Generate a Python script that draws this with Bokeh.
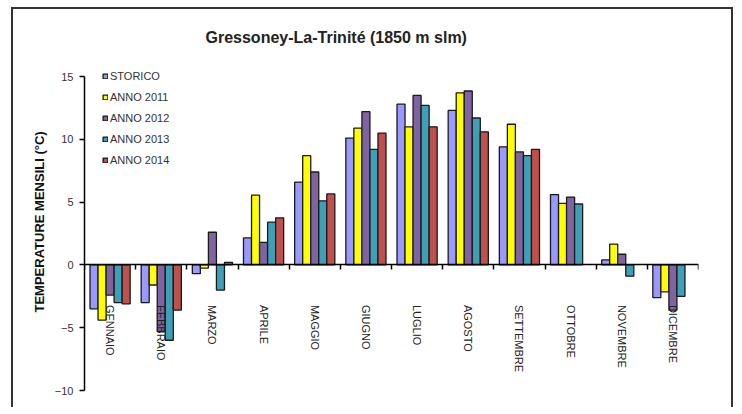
import math
from bokeh.plotting import figure
from bokeh.models import (ColumnDataSource, Range1d, FixedTicker, LinearAxis,
                          Legend, LegendItem, Title)
from bokeh.core.properties import value
from bokeh.transform import dodge
from bokeh.embed import file_html
from bokeh.resources import INLINE

NAN = float("nan")

months = ["GENNAIO", "FEBBRAIO", "MARZO", "APRILE", "MAGGIO", "GIUGNO",
          "LUGLIO", "AGOSTO", "SETTEMBRE", "OTTOBRE", "NOVEMBRE", "DICEMBRE"]
series_names = ["STORICO", "ANNO 2011", "ANNO 2012", "ANNO 2013", "ANNO 2014"]
storico = [-3.5, -3.0, -0.7, 2.15, 6.6, 10.1, 12.8, 12.3, 9.4, 5.6, 0.4, -2.6]
anno_2011 = [-4.4, -1.6, -0.25, 5.55, 8.7, 10.9, 11.0, 13.7, 11.2, 4.9, 1.65, -2.15]
anno_2012 = [-2.4, -5.3, 2.6, 1.8, 7.4, 12.2, 13.5, 13.85, 9.0, 5.4, 0.85, -3.6]
anno_2013 = [-3.0, -6.0, -2.0, 3.4, 5.1, 9.2, 12.7, 11.7, 8.7, 4.85, -0.9, -2.5]
anno_2014 = [-3.1, -3.6, 0.2, 3.75, 5.65, 10.5, 11.0, 10.6, 9.2, NAN, NAN, NAN]
y_ticks = [-10, -5, 0, 5, 10, 15]

colors = ["#9999FF", "#FFFF00", "#8064A2", "#3E9FB5", "#C0504D"]
FONT = "Liberation Sans"

n = len(months)
centers = [i + 0.5 for i in range(n)]
data = dict(x=centers, month=months, s0=storico, s1=anno_2011, s2=anno_2012,
            s3=anno_2013, s4=anno_2014)
src = ColumnDataSource(data)

p = figure(width=722, height=400, output_backend="svg", toolbar_location=None,
           x_range=Range1d(0, n), y_range=Range1d(y_ticks[0], y_ticks[-1] + 0.72),
           min_border_left=71, min_border_right=37, min_border_top=58,
           min_border_bottom=19, x_axis_type=None, y_axis_type=None)
p.styles = {"border-top": "2px solid #333", "border-left": "2px solid #333",
            "border-right": "2px solid #333", "margin-left": "11px",
            "margin-top": "7px"}
p.outline_line_color = None
p.xgrid.visible = False
p.ygrid.visible = False
p.background_fill_color = "white"
p.border_fill_color = "white"

# title
p.add_layout(Title(text="Gressoney-La-Trinité (1850 m slm)", align="left",
                   offset=121, standoff=39, vertical_align="top", text_font=FONT,
                   text_font_size="16px", text_font_style="bold",
                   text_color="#222222"), "above")

# y axis
yax = LinearAxis(ticker=FixedTicker(ticks=y_ticks), bounds=(y_ticks[0], y_ticks[-1]))
yax.axis_line_color = "black"
yax.axis_line_width = 1.5
yax.major_tick_line_color = "black"
yax.major_tick_line_width = 1.5
yax.major_tick_out = 5
yax.major_tick_in = 0
yax.minor_tick_line_color = None
yax.major_label_text_font = FONT
yax.major_label_text_font_size = "11px"
yax.major_label_text_color = "#333333"
yax.major_label_standoff = 6
p.add_layout(yax, "left")

p.add_layout(Title(text="TEMPERATURE MENSILI (°C)", align="left", offset=78,
                   standoff=9, text_font=FONT, text_font_size="13px",
                   text_font_style="bold", text_color="#111111"), "left")

# x axis at zero with ticks at category boundaries
xax = LinearAxis(ticker=FixedTicker(ticks=list(range(n + 1))), fixed_location=0)
xax.axis_line_color = "black"
xax.axis_line_width = 1.5
xax.major_tick_line_color = "black"
xax.major_tick_line_width = 1.5
xax.major_tick_out = 5
xax.major_tick_in = 0
xax.minor_tick_line_color = None
xax.major_label_text_font_size = "0px"
xax.major_label_text_alpha = 0
p.add_layout(xax, "below")

w = 0.157
keys = ["s0", "s1", "s2", "s3", "s4"]
items = []
for k, (key, col, name) in enumerate(zip(keys, colors, series_names)):
    r = p.vbar(x=dodge("x", (k - 2) * w), top=key, bottom=0, width=w,
               source=src, fill_color=col, line_color="#1a1a1a", line_width=1.3)
    items.append(LegendItem(label=name, renderers=[r]))

# month labels, rotated, below zero line
p.text(x="x", y=0, text="month", source=src, angle=-math.pi / 2,
       y_offset=40, text_align="left", text_baseline="middle",
       text_font=value(FONT), text_font_size="11px", text_color="#222222")

legend = Legend(items=items, location=(18, 223))
legend.padding = 0
legend.margin = 0
legend.spacing = 7
legend.label_height = 14
legend.glyph_height = 6
legend.glyph_width = 6
legend.label_standoff = 2
legend.label_text_font = FONT
legend.label_text_font_size = "11px"
legend.label_text_color = "#333333"
legend.border_line_alpha = 0
legend.background_fill_alpha = 0
p.add_layout(legend, "center")

open("out.html", "w").write(file_html(p, INLINE))
